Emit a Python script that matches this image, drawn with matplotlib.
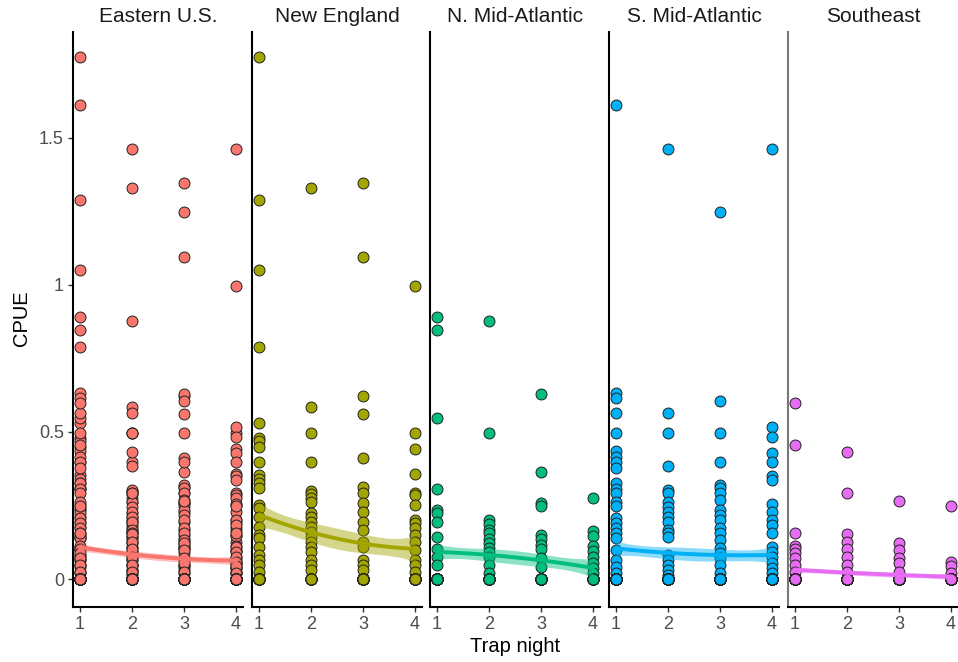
import numpy as np
import matplotlib
matplotlib.use("Agg")
import matplotlib.pyplot as plt

plt.rcParams["font.family"] = ["Liberation Sans", "DejaVu Sans"]

regions = ["Eastern U.S.", "New England", "N. Mid-Atlantic", "S. Mid-Atlantic", "Southeast"]
colors = ["#F8766D", "#A3A500", "#00BF7D", "#00B0F6", "#E76BF3"]
nights = [1, 2, 3, 4]

# CPUE values (trap nights 1-4), plus an estimate of how many
# zero catches are stacked under the bottom point of each column.
ne_n1 = [1.774, 1.289, 1.051, 0.79, 0.532, 0.48, 0.47, 0.45, 0.398, 0.354, 0.34, 0.325,
         0.31, 0.252, 0.24, 0.21, 0.177, 0.15, 0.14, 0.11, 0.082, 0.065, 0.048, 0.024, 0.0]
ne_n2 = [1.33, 0.585, 0.497, 0.398, 0.30, 0.29, 0.275, 0.262, 0.225, 0.21, 0.194, 0.177,
         0.16, 0.143, 0.126, 0.109, 0.092, 0.065, 0.048, 0.031, 0.0]
ne_n3 = [1.347, 1.095, 0.622, 0.561, 0.41, 0.313, 0.292, 0.258, 0.228, 0.194, 0.167,
         0.126, 0.109, 0.065, 0.048, 0.031, 0.0]
ne_n4 = [0.997, 0.497, 0.442, 0.357, 0.292, 0.285, 0.252, 0.2, 0.19, 0.173, 0.15, 0.126,
         0.099, 0.065, 0.048, 0.024, 0.0]
ne_zeros = [21, 14, 31, 24]

nma_n1 = [0.892, 0.847, 0.547, 0.305, 0.235, 0.224, 0.195, 0.143, 0.102, 0.075, 0.048, 0.0]
nma_n2 = [0.879, 0.498, 0.2, 0.187, 0.167, 0.156, 0.136, 0.122, 0.105, 0.092, 0.075,
          0.048, 0.02, 0.0]
nma_n3 = [0.629, 0.365, 0.26, 0.248, 0.15, 0.135, 0.116, 0.101, 0.071, 0.042, 0.0]
nma_n4 = [0.274, 0.164, 0.146, 0.112, 0.096, 0.075, 0.054, 0.037, 0.02, 0.0]
nma_zeros = [27, 19, 22, 16]

sma_n1 = [1.612, 0.632, 0.615, 0.564, 0.498, 0.436, 0.416, 0.399, 0.376, 0.325, 0.305,
          0.291, 0.263, 0.248, 0.206, 0.189, 0.172, 0.155, 0.138, 0.099, 0.065, 0.042,
          0.021, 0.0]
sma_n2 = [1.463, 0.566, 0.498, 0.384, 0.303, 0.291, 0.263, 0.246, 0.229, 0.212, 0.195,
          0.167, 0.155, 0.142, 0.082, 0.065, 0.048, 0.031, 0.014, 0.0]
sma_n3 = [1.248, 0.607, 0.498, 0.397, 0.32, 0.308, 0.291, 0.269, 0.235, 0.218, 0.201,
          0.172, 0.155, 0.133, 0.104, 0.087, 0.07, 0.048, 0.019, 0.0]
sma_n4 = [1.463, 0.518, 0.482, 0.43, 0.397, 0.35, 0.337, 0.255, 0.229, 0.201, 0.184,
          0.155, 0.11, 0.093, 0.076, 0.053, 0.036, 0.019, 0.0]
sma_zeros = [53, 41, 45, 47]

se_n1 = [0.598, 0.456, 0.158, 0.112, 0.101, 0.087, 0.07, 0.048, 0.025, 0.0]
se_n2 = [0.431, 0.291, 0.152, 0.127, 0.101, 0.076, 0.048, 0.025, 0.0]
se_n3 = [0.265, 0.124, 0.099, 0.07, 0.053, 0.025, 0.0]
se_n4 = [0.248, 0.059, 0.044, 0.021, 0.0]
se_zeros = [42, 48, 38, 41]


def region_data(cols, zeros):
    x, y = [], []
    for night, vals, z in zip(nights, cols, zeros):
        vals = list(vals) + [0.0] * z
        x += [night] * len(vals)
        y += vals
    return np.array(x, float), np.array(y, float)


sub = [region_data([ne_n1, ne_n2, ne_n3, ne_n4], ne_zeros),
       region_data([nma_n1, nma_n2, nma_n3, nma_n4], nma_zeros),
       region_data([sma_n1, sma_n2, sma_n3, sma_n4], sma_zeros),
       region_data([se_n1, se_n2, se_n3, se_n4], se_zeros)]
# Eastern U.S. pools all four regions
data = [(np.concatenate([s[0] for s in sub]), np.concatenate([s[1] for s in sub]))] + sub


def smooth(x, y, grid):
    # quadratic least-squares trend with a +/- 1 SE band
    X = np.column_stack([np.ones_like(x), x, x ** 2])
    beta, *_ = np.linalg.lstsq(X, y, rcond=None)
    resid = y - X @ beta
    s2 = resid @ resid / (len(y) - 3)
    cov = s2 * np.linalg.inv(X.T @ X)
    G = np.column_stack([np.ones_like(grid), grid, grid ** 2])
    fit = G @ beta
    se = np.sqrt(np.einsum("ij,jk,ik->i", G, cov, G))
    return fit, se


W, H = 958, 662
fig = plt.figure(figsize=(W / 100, H / 100), dpi=100)
left_px = [73, 252, 430, 609, 788]
pw, top_px, bot_px = 170, 32, 607
grid = np.linspace(1, 4, 80)

for i, (name, col, (x, y)) in enumerate(zip(regions, colors, data)):
    ax = fig.add_axes([left_px[i] / W, 1 - bot_px / H, pw / W, (bot_px - top_px) / H])
    ax.scatter(x, y, s=62, c=col, edgecolors="#222222", linewidths=0.7, zorder=2)
    fit, se = smooth(x, y, grid)
    ax.fill_between(grid, fit - se, fit + se, color=col, alpha=0.45, lw=0, zorder=3)
    ax.plot(grid, fit, color=col, lw=2.8, zorder=4)

    ax.set_xlim(0.865, 4.135)
    ax.set_ylim(-0.095, 1.86)
    ax.set_xticks(nights)
    ax.set_yticks([0, 0.5, 1, 1.5])
    ax.set_yticklabels(["0", "0.5", "1", "1.5"])
    for side in ("top", "right"):
        ax.spines[side].set_visible(False)
    for side in ("left", "bottom"):
        ax.spines[side].set_linewidth(1.5)
        ax.spines[side].set_color("black")
    if i == 4:
        ax.spines["left"].set_color("#777777")
    ax.tick_params(axis="both", length=3.5, width=1, color="#333333",
                   labelsize=13, labelcolor="#4D4D4D", pad=3)
    if i > 0:
        ax.tick_params(axis="y", left=False, labelleft=False)
    fig.text((left_px[i] + pw / 2) / W, 1 - 17 / H, name, ha="center", va="center",
             fontsize=15, color="#1A1A1A")

fig.text(515 / W, 1 - 647 / H, "Trap night", ha="center", va="center", fontsize=14.5)
fig.text(22 / W, 1 - 318 / H, "CPUE", ha="center", va="center", rotation=90, fontsize=14.5)

fig.savefig("out.png", dpi=100)
